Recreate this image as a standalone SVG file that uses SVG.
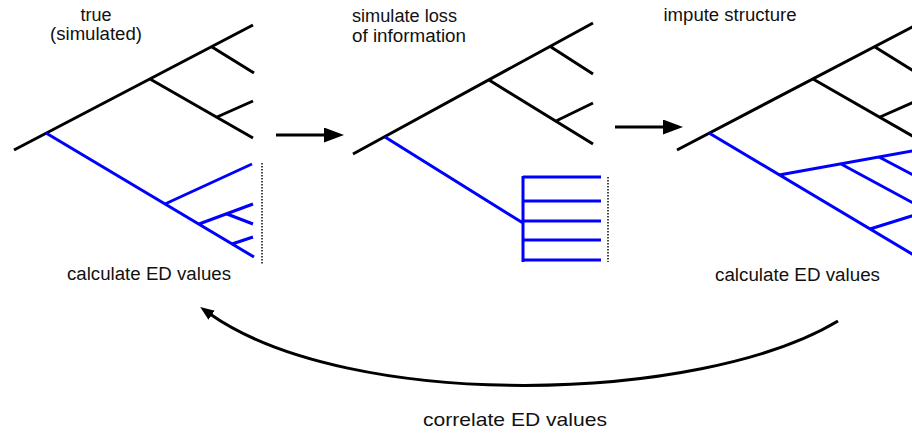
<svg xmlns="http://www.w3.org/2000/svg" width="912" height="434" viewBox="0 0 912 434">
<defs>
<style>
.t{font-family:"Liberation Sans",Arial,sans-serif;font-size:18px;fill:#111}
.k{stroke:#000;stroke-width:3;fill:none}
.b{stroke:#0000ff;stroke-width:3;fill:none}
.d{stroke:#333;stroke-width:1.8;stroke-dasharray:1.5 1.5;fill:none}
.a{stroke:#000;stroke-width:3;fill:none}
</style>
<marker id="ah" markerUnits="userSpaceOnUse" markerWidth="22" markerHeight="16" refX="0" refY="7.5" orient="auto">
<path d="M0,0 L20,7.5 L0,15 z" fill="#000"/>
</marker>
<marker id="ah2" markerUnits="userSpaceOnUse" markerWidth="16" markerHeight="12" refX="2" refY="5.5" orient="auto">
<path d="M0,0 L14,5.5 L0,11 z" fill="#000"/>
</marker>
</defs>
<rect width="912" height="434" fill="#fff"/>

<g id="tree1">
<path class="k" d="M14,150 L253,25 M212,47 L254,73 M150,79 L253,138 M217,117 L253,101"/>
<path class="b" d="M46,133 L254,257 M165,204 L252,164 M199,224 L253,204 M227,214 L253,224 M232,244 L253,237"/>
<path class="d" d="M262,163 L262,264"/>
<text class="t" x="96" y="21" text-anchor="middle">true</text>
<text class="t" x="96" y="40" text-anchor="middle" textLength="92" lengthAdjust="spacingAndGlyphs">(simulated)</text>
<text class="t" x="67" y="280" textLength="164" lengthAdjust="spacingAndGlyphs">calculate ED values</text>
</g>

<g id="tree2">
<path class="k" d="M353,154 L593,23 M551,47 L593,74 M489,80 L593,144 M556,121 L593,103"/>
<path class="b" d="M385,137 L523,223 M523,176 L523,262 M523,177 L601,177 M523,201 L601,201 M523,221 L601,221 M523,240 L601,240 M523,260 L601,260"/>
<path class="d" d="M608,177 L608,262"/>
<text class="t" x="352" y="22" textLength="105" lengthAdjust="spacingAndGlyphs">simulate loss</text>
<text class="t" x="352" y="42" textLength="114" lengthAdjust="spacingAndGlyphs">of information</text>
</g>

<g id="tree3">
<path class="k" d="M677,150 L916,25 M875,47 L917,73 M813,79 L916,138 M880,117 L916,101"/>
<path class="b" d="M709,133 L917,257 M779,175 L915,150.5 M841,164 L915,204 M879,157 L915,176 M870,229 L915,215"/>
<text class="t" x="663.5" y="21" textLength="133" lengthAdjust="spacingAndGlyphs">impute structure</text>
<text class="t" x="715" y="281" textLength="165" lengthAdjust="spacingAndGlyphs">calculate ED values</text>
</g>

<g id="connectors">
<path class="a" d="M838,321 C700,404 350,412 210,314" stroke-width="2.5" marker-end="url(#ah2)"/>
<path class="a" d="M276,135 L324,135" marker-end="url(#ah)"/>
<path class="a" d="M615,127 L663,127" marker-end="url(#ah)"/>
<text class="t" x="423" y="426" style="font-size:19px" textLength="184" lengthAdjust="spacingAndGlyphs">correlate ED values</text>
</g>
</svg>
